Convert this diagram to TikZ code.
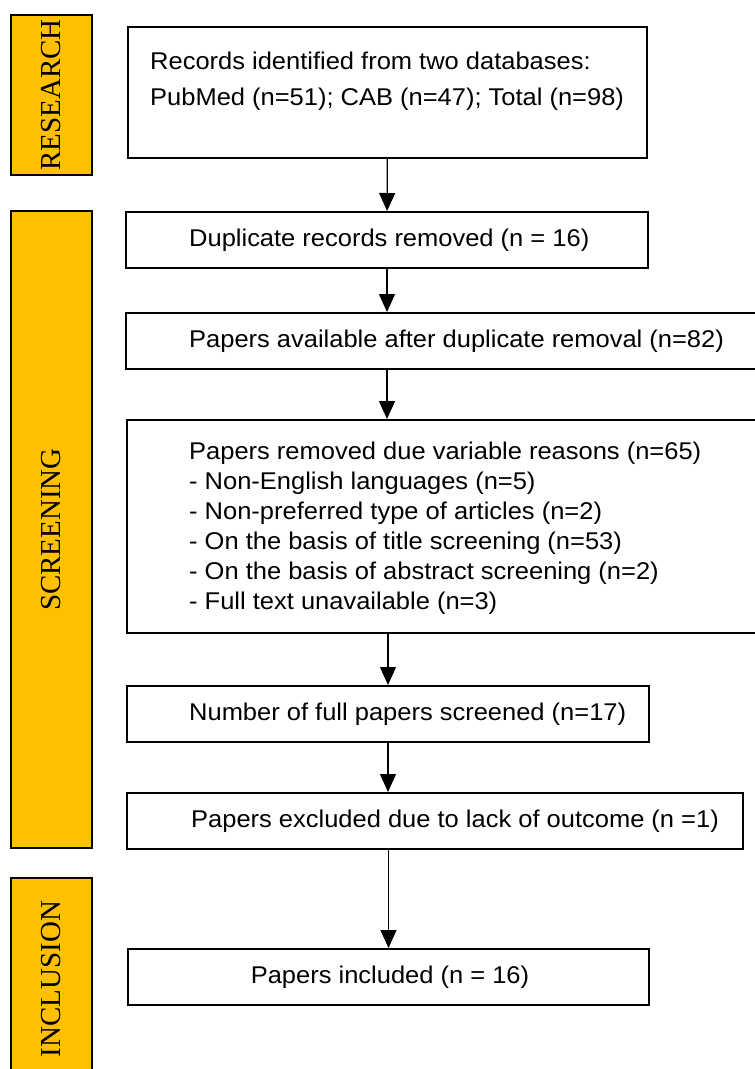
\documentclass[tikz,border=0pt]{standalone}
\usepackage{fontspec}
\setmainfont{Liberation Serif}
\setsansfont{Liberation Sans}[FakeStretch=1.053]
\usetikzlibrary{arrows.meta,positioning}
\definecolor{stagegold}{HTML}{FFC000}

\begin{document}
\begin{tikzpicture}[x=1pt,y=-1pt]
\tikzset{
    stage/.style={draw,line width=2pt,fill=stagegold,rotate=90,minimum height=81pt,inner sep=0pt,font=\fontsize{29}{29}\selectfont},
    box/.style={draw,line width=2pt,inner sep=0pt},
    txt/.style={anchor=west,inner sep=0pt,align=left,font=\sffamily\fontsize{24.2}{30}\selectfont},
    flow/.style={-{Triangle[width=16pt,length=18pt]},line width=1.3pt}
}
\useasboundingbox (0,0) rectangle (755,1069);
\clip (0,0) rectangle (755,1069);
% stages
\node[stage,minimum width=160pt] (research) at (51.5,95) {RESEARCH};
\node[stage,minimum width=637pt] (screening) at (51.5,529.5) {SCREENING};
\node[stage,minimum width=202pt] (inclusion) at (51.5,979) {INCLUSION};
% boxes
\node[box,minimum width=519pt,minimum height=131pt] (rec) at (387.5,92.5) {};
\node[box,minimum width=522pt,minimum height=56pt] (dup) at (387,240) {};
\node[box,minimum width=644pt,minimum height=56pt] (avail) at (448,341) {};
\node[box,minimum width=643pt,minimum height=213pt] (rem) at (448.5,526.5) {};
\node[box,minimum width=522pt,minimum height=56pt] (full) at (388,714) {};
\node[box,minimum width=616pt,minimum height=56pt] (excl) at (435,821) {};
\node[box,minimum width=521pt,minimum height=56pt] (incl) at (388.5,977) {};
% texts
\node[txt] (rectext) at ([xshift=23pt,yshift=11pt]rec.west) {Records identified from two databases:\\[6pt]PubMed (n=51); CAB (n=47); Total (n=98)};
\node[txt] (duptext) at ([xshift=64pt]dup.west) {Duplicate records removed (n = 16)};
\node[txt] (availtext) at ([xshift=64pt]avail.west) {Papers available after duplicate removal (n=82)};
\node[txt] (remtext) at ([xshift=63pt,yshift=-2pt]rem.west) {Papers removed due variable reasons (n=65)\\
- Non-English languages (n=5)\\
- Non-preferred type of articles (n=2)\\
- On the basis of title screening (n=53)\\
- On the basis of abstract screening (n=2)\\
- Full text unavailable (n=3)};
\node[txt] (fulltext) at ([xshift=63pt]full.west) {Number of full papers screened (n=17)};
\node[txt] (excltext) at ([xshift=65pt]excl.west) {Papers excluded due to lack of outcome (n =1)};
\node[txt,anchor=center] (incltext) at ([xshift=1.5pt]incl.center) {Papers included (n = 16)};
% arrows
\draw[flow] (rec) -- (dup);
\draw[flow] (dup) -- (dup |- avail.north);
\draw[flow] (dup |- avail.south) -- (dup |- rem.north);
\draw[flow] (full |- rem.south) -- (full);
\draw[flow] (full) -- (full |- excl.north);
\draw[flow] (incl |- excl.south) -- (incl);
\end{tikzpicture}
\end{document}
